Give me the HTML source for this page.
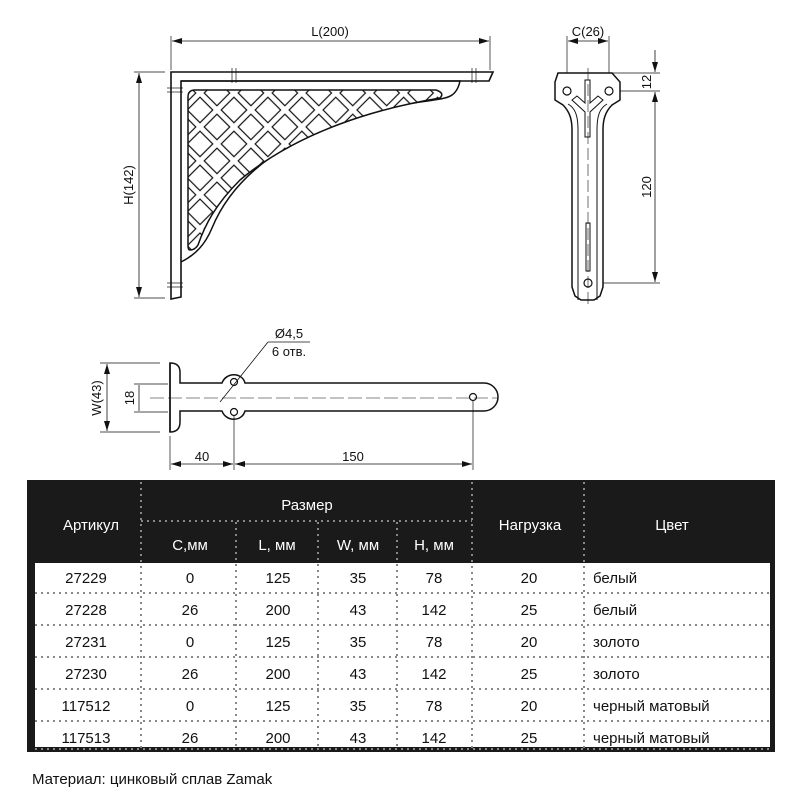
<!DOCTYPE html>
<html><head><meta charset="utf-8"><style>
html,body{margin:0;padding:0;background:#fff;}
body{width:800px;height:800px;position:relative;overflow:hidden;font-family:"Liberation Sans",sans-serif;}
svg{position:absolute;left:0;top:0;}
</style></head><body>
<svg width="800" height="800" viewBox="0 0 800 800" font-family="Liberation Sans, sans-serif">
<defs>
<pattern id="lat" width="24" height="24" patternUnits="userSpaceOnUse" patternTransform="translate(200,93) rotate(45)">
<rect x="0" y="0" width="24" height="24" fill="#fff"/>
<rect x="3" y="3" width="18" height="18" fill="#fff" stroke="#111" stroke-width="1.2"/>
</pattern>
<marker id="ar" viewBox="0 0 10 6" refX="10" refY="3" markerWidth="10" markerHeight="6" orient="auto-start-reverse" markerUnits="userSpaceOnUse"><path d="M0,0 L10,3 L0,6 Z" fill="#111"/></marker>
</defs>
<g stroke="#111" fill="none" stroke-width="1">
<!-- FRONT VIEW -->
<line x1="171" y1="36" x2="171" y2="70" stroke-width="0.7"/>
<line x1="490" y1="36" x2="490" y2="70" stroke-width="0.7"/>
<line x1="172" y1="41" x2="489" y2="41" marker-start="url(#ar)" marker-end="url(#ar)" stroke-width="0.8"/>
<line x1="134" y1="72" x2="165" y2="72" stroke-width="0.7"/>
<line x1="134" y1="298" x2="165" y2="298" stroke-width="0.7"/>
<line x1="139" y1="73" x2="139" y2="297" marker-start="url(#ar)" marker-end="url(#ar)" stroke-width="0.8"/>
<path d="M171,72 L493,72 L489,81 L181,81 L181,297 L171,299 Z" stroke-width="1.6" fill="#fff"/>
<path d="M181,81 L460,81 C456,100 445,98 420,102 C320,118 240,160 212,228 C205,245 195,255 181,262" stroke-width="1.5"/>
<path d="M188,97 Q188,90 195,90 L436,90 Q445,93 440,98 C380,108 300,130 240,180 C215,205 205,225 198,245 Q195,250 190,250 Q188,250 188,246 Z" fill="url(#lat)" stroke-width="1.5"/>
<g stroke-width="0.7"><line x1="232" y1="68" x2="232" y2="83"/><line x1="236" y1="68" x2="236" y2="83"/><line x1="472" y1="68" x2="472" y2="83"/><line x1="476" y1="68" x2="476" y2="83"/>
<line x1="167" y1="88" x2="183" y2="88"/><line x1="167" y1="92" x2="183" y2="92"/><line x1="167" y1="283" x2="183" y2="283"/><line x1="167" y1="287" x2="183" y2="287"/></g>
<!-- SIDE VIEW -->
<line x1="567" y1="36" x2="567" y2="92" stroke-width="0.7"/>
<line x1="609" y1="36" x2="609" y2="92" stroke-width="0.7"/>
<line x1="568" y1="41" x2="608" y2="41" marker-start="url(#ar)" marker-end="url(#ar)" stroke-width="0.8"/>
<line x1="610" y1="73" x2="660" y2="73" stroke-width="0.7"/>
<line x1="610" y1="91" x2="660" y2="91" stroke-width="0.7"/>
<line x1="590" y1="283" x2="660" y2="283" stroke-width="0.7"/>
<line x1="655" y1="50" x2="655" y2="72" marker-end="url(#ar)" stroke-width="0.8"/>
<line x1="655" y1="92" x2="655" y2="282" marker-start="url(#ar)" marker-end="url(#ar)" stroke-width="0.8"/>
<path d="M558,73 L612,73 L620,82 L620,100 L612,105 C605,112 603,120 603,130 L603,287 L600,296 L594,300 L581,300 L575,296 L572,287 L572,130 C572,120 570,112 563,105 L555,100 L555,82 Z" stroke-width="1.5" fill="#fff"/>
<path d="M578,300 L578,130 C578,115 575,108 568,104 M597,300 L597,130 C597,115 600,108 607,104" stroke-width="1"/>
<path d="M572,100 L585,112 L585,137 L590,137 L590,112 L603,100 L598,96 L590,103 L590,80 L585,80 L585,103 L577,96 Z" stroke-width="1"/>
<rect x="586" y="223" width="4" height="48" stroke-width="1"/>
<circle cx="567" cy="91" r="4" stroke-width="1.2"/><circle cx="609" cy="91" r="4" stroke-width="1.2"/>
<circle cx="588" cy="283" r="4" stroke-width="1.2"/>
<line x1="588" y1="68" x2="588" y2="305" stroke-width="0.6" stroke-dasharray="12,4"/>
<!-- BOTTOM VIEW -->
<line x1="100" y1="363" x2="160" y2="363" stroke-width="0.7"/>
<line x1="100" y1="432" x2="160" y2="432" stroke-width="0.7"/>
<line x1="107" y1="364" x2="107" y2="431" marker-start="url(#ar)" marker-end="url(#ar)" stroke-width="0.8"/>
<line x1="134" y1="384" x2="168" y2="384" stroke-width="0.7"/>
<line x1="134" y1="412" x2="168" y2="412" stroke-width="0.7"/>
<line x1="139" y1="385" x2="139" y2="411" stroke-width="0.8"/>
<path d="M170,363 Q180,363 180,372 L180,383 L222,383 C226,372 242,372 245,383 L484,383 A14,14 0 0 1 484,411 L245,411 C242,422 226,422 222,411 L180,411 L180,422 Q180,432 170,432 Z" stroke-width="1.5" fill="#fff"/>
<line x1="170" y1="363" x2="170" y2="432" stroke-width="1.5"/>
<circle cx="234" cy="382" r="3.5" stroke-width="1.2"/><circle cx="234" cy="412" r="3.5" stroke-width="1.2"/><circle cx="473" cy="397" r="3.5" stroke-width="1.2"/>
<line x1="150" y1="398" x2="498" y2="398" stroke-width="0.6" stroke-dasharray="14,4"/>
<line x1="220" y1="402" x2="268" y2="342" stroke-width="0.8"/>
<line x1="268" y1="342" x2="310" y2="342" stroke-width="0.8"/>
<line x1="170" y1="436" x2="170" y2="470" stroke-width="0.7"/>
<line x1="234" y1="415" x2="234" y2="470" stroke-width="0.7"/>
<line x1="473" y1="400" x2="473" y2="470" stroke-width="0.7"/>
<line x1="171" y1="464" x2="233" y2="464" marker-start="url(#ar)" marker-end="url(#ar)" stroke-width="0.8"/>
<line x1="235" y1="464" x2="472" y2="464" marker-start="url(#ar)" marker-end="url(#ar)" stroke-width="0.8"/>
</g>
<g fill="#111" font-size="13">
<text x="330" y="36" text-anchor="middle">L(200)</text>
<text transform="translate(133,185) rotate(-90)" text-anchor="middle">H(142)</text>
<text x="588" y="36" text-anchor="middle">C(26)</text>
<text transform="translate(651,82) rotate(-90)" text-anchor="middle">12</text>
<text transform="translate(651,187) rotate(-90)" text-anchor="middle">120</text>
<text x="289" y="338" text-anchor="middle">Ø4,5</text>
<text x="289" y="356" text-anchor="middle">6 отв.</text>
<text transform="translate(101,398) rotate(-90)" text-anchor="middle">W(43)</text>
<text transform="translate(134,398) rotate(-90)" text-anchor="middle">18</text>
<text x="202" y="461" text-anchor="middle">40</text>
<text x="353" y="461" text-anchor="middle">150</text>
</g>
<!-- TABLE -->
<rect x="27" y="480" width="748" height="272" fill="#1a1a1a"/>
<rect x="35" y="563" width="735" height="184" fill="#fff"/>
<g stroke="#888" stroke-width="2" stroke-dasharray="2,4">
<line x1="141" y1="482" x2="141" y2="750"/><line x1="472" y1="482" x2="472" y2="750"/><line x1="584" y1="482" x2="584" y2="750"/>
<line x1="236" y1="522" x2="236" y2="750"/><line x1="318" y1="522" x2="318" y2="750"/><line x1="397" y1="522" x2="397" y2="750"/>
<line x1="141" y1="521" x2="472" y2="521"/>
<line x1="35" y1="593" x2="770" y2="593"/><line x1="35" y1="625" x2="770" y2="625"/><line x1="35" y1="657" x2="770" y2="657"/><line x1="35" y1="689" x2="770" y2="689"/><line x1="35" y1="721" x2="770" y2="721"/><line x1="35" y1="749" x2="770" y2="749"/>
</g>
<g fill="#fff" font-size="15" text-anchor="middle">
<text x="91" y="530">Артикул</text><text x="307" y="510">Размер</text>
<text x="190" y="550">С,мм</text><text x="277" y="550">L, мм</text><text x="358" y="550">W, мм</text><text x="434" y="550">H, мм</text>
<text x="530" y="530">Нагрузка</text><text x="672" y="530">Цвет</text>
</g>
<g fill="#111" font-size="15">
<g text-anchor="middle">
<text x="86" y="583">27229</text><text x="190" y="583">0</text><text x="278" y="583">125</text><text x="358" y="583">35</text><text x="434" y="583">78</text><text x="529" y="583">20</text>
<text x="86" y="615">27228</text><text x="190" y="615">26</text><text x="278" y="615">200</text><text x="358" y="615">43</text><text x="434" y="615">142</text><text x="529" y="615">25</text>
<text x="86" y="647">27231</text><text x="190" y="647">0</text><text x="278" y="647">125</text><text x="358" y="647">35</text><text x="434" y="647">78</text><text x="529" y="647">20</text>
<text x="86" y="679">27230</text><text x="190" y="679">26</text><text x="278" y="679">200</text><text x="358" y="679">43</text><text x="434" y="679">142</text><text x="529" y="679">25</text>
<text x="86" y="711">117512</text><text x="190" y="711">0</text><text x="278" y="711">125</text><text x="358" y="711">35</text><text x="434" y="711">78</text><text x="529" y="711">20</text>
<text x="86" y="743">117513</text><text x="190" y="743">26</text><text x="278" y="743">200</text><text x="358" y="743">43</text><text x="434" y="743">142</text><text x="529" y="743">25</text>
</g>
<text x="593" y="583">белый</text><text x="593" y="615">белый</text><text x="593" y="647">золото</text><text x="593" y="679">золото</text><text x="593" y="711">черный матовый</text><text x="593" y="743">черный матовый</text>
<text x="32" y="784">Материал: цинковый сплав Zamak</text>
</g>
</svg>
</body></html>
